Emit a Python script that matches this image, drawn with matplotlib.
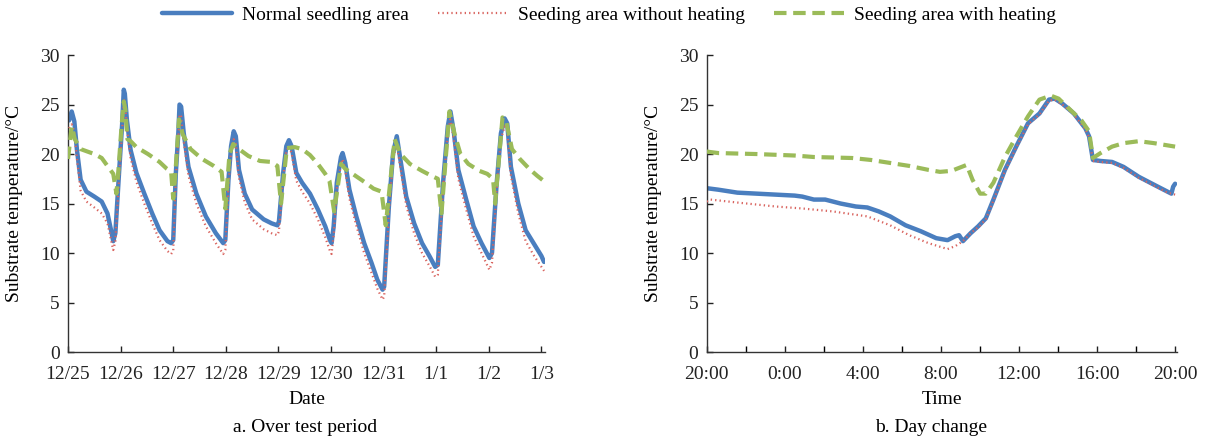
import matplotlib
matplotlib.use("Agg")
import matplotlib.pyplot as plt
from matplotlib.lines import Line2D

plt.rcParams['font.family'] = ['Liberation Serif', 'DejaVu Serif']
plt.rcParams['font.size'] = 14

# ---- panel a: whole test period (days since 12/25 0:00)
t_a = [0.02, 0.07, 0.12, 0.17, 0.24, 0.35, 0.50, 0.64, 0.75, 0.83, 0.86, 0.90, 0.97,
       1.03, 1.06, 1.08, 1.12, 1.19, 1.30, 1.45, 1.60, 1.74, 1.89, 1.96, 2.00,
       2.05, 2.10, 2.12, 2.15, 2.20, 2.29, 2.44, 2.62, 2.81, 2.95, 2.99,
       3.05, 3.10, 3.15, 3.19, 3.25, 3.36, 3.50, 3.72, 3.87, 3.98, 4.01,
       4.09, 4.15, 4.20, 4.25, 4.34, 4.45, 4.60, 4.75, 4.89, 4.98, 5.01,
       5.05, 5.11, 5.19, 5.22, 5.27, 5.35, 5.48, 5.63, 5.77, 5.88, 5.98, 6.01,
       6.10, 6.18, 6.25, 6.32, 6.43, 6.58, 6.73, 6.87, 6.98, 7.03,
       7.13, 7.22, 7.27, 7.33, 7.42, 7.57, 7.71, 7.86, 8.01, 8.06,
       8.15, 8.23, 8.30, 8.35, 8.42, 8.56, 8.70, 8.85, 9.00, 9.05]
normal_a = [23.4, 24.3, 23.3, 20.4, 17.4, 16.2, 15.7, 15.2, 14.0, 12.0, 11.2, 12.0, 18.1,
            23.1, 26.5, 26.1, 23.4, 20.4, 18.1, 16.0, 14.0, 12.3, 11.2, 11.0, 11.3,
            18.1, 22.4, 25.0, 24.8, 22.1, 18.7, 16.0, 13.7, 12.0, 11.0, 11.3,
            17.4, 20.8, 22.3, 21.8, 18.4, 16.0, 14.4, 13.4, 13.0, 12.8, 13.2,
            18.1, 20.8, 21.4, 20.8, 18.1, 17.1, 16.0, 14.4, 12.7, 11.3, 11.0,
            12.7, 17.1, 19.7, 20.1, 19.1, 16.4, 13.7, 11.0, 9.0, 7.3, 6.3, 6.6,
            14.7, 20.1, 21.8, 19.4, 15.7, 13.0, 11.0, 9.7, 8.6, 8.8,
            17.1, 22.8, 24.3, 22.4, 18.4, 15.4, 12.7, 11.0, 9.5, 10.0,
            17.1, 22.1, 23.6, 23.1, 18.7, 15.0, 12.3, 11.0, 9.7, 9.1]
noheat_a = [22.6, 23.0, 22.3, 19.5, 16.3, 15.2, 14.6, 14.0, 13.0, 11.0, 10.3, 11.2, 17.5,
            22.5, 25.5, 25.3, 22.6, 19.6, 17.2, 15.0, 13.0, 11.3, 10.2, 9.9, 10.2,
            17.5, 22.0, 24.0, 23.8, 21.3, 17.8, 15.0, 12.7, 11.0, 9.9, 10.3,
            16.8, 20.3, 21.5, 21.0, 17.6, 15.1, 13.4, 12.4, 12.0, 11.8, 12.2,
            17.6, 20.3, 20.8, 20.1, 17.3, 16.2, 15.0, 13.4, 11.6, 10.2, 9.9,
            11.8, 16.5, 19.0, 19.5, 18.4, 15.5, 12.8, 10.0, 8.0, 6.4, 5.3, 5.6,
            14.0, 19.6, 21.0, 18.6, 14.8, 12.0, 10.0, 8.7, 7.6, 7.8,
            16.5, 22.2, 23.5, 21.6, 17.5, 14.4, 11.7, 10.0, 8.3, 9.0,
            16.5, 21.5, 22.8, 22.3, 17.8, 14.0, 11.2, 9.8, 8.6, 8.2]
t_heat_a = [0.00, 0.07, 0.13, 0.24, 0.50, 0.64, 0.79, 0.86, 0.92, 0.96, 1.02, 1.06, 1.09,
            1.13, 1.19, 1.30, 1.52, 1.74, 1.88, 1.96, 2.00, 2.04, 2.11, 2.18, 2.33,
            2.55, 2.77, 2.92, 2.99, 3.07, 3.14, 3.25, 3.43, 3.65, 3.87, 3.98, 4.05,
            4.16, 4.31, 4.45, 4.60, 4.75, 4.89, 4.97, 5.06, 5.19, 5.27, 5.41, 5.63,
            5.81, 5.96, 6.04, 6.21, 6.32, 6.50, 6.73, 6.91, 7.03, 7.10, 7.25, 7.35,
            7.46, 7.61, 7.82, 7.97, 8.08, 8.12, 8.26, 8.33, 8.44, 8.59, 8.77, 8.92, 9.04]
heat_a = [19.5, 22.8, 21.5, 20.5, 20.0, 19.6, 18.5, 18.0, 16.0, 18.5, 23.0, 25.3, 24.5,
          21.5, 21.3, 20.7, 20.0, 19.2, 18.5, 18.2, 15.5, 18.0, 23.5, 22.0, 20.5,
          19.5, 18.8, 18.2, 14.5, 20.0, 21.0, 20.5, 19.8, 19.3, 19.2, 18.8, 15.0,
          20.6, 20.7, 20.5, 19.9, 19.0, 18.0, 17.3, 14.2, 19.0, 18.5, 18.0, 17.2,
          16.5, 16.2, 12.8, 21.5, 20.0, 19.0, 18.3, 17.8, 17.5, 14.0, 24.3, 22.0,
          20.0, 19.0, 18.3, 18.0, 17.5, 15.0, 23.7, 23.3, 20.5, 19.5, 18.5, 17.8, 17.3]
date_labels = ['12/25', '12/26', '12/27', '12/28', '12/29', '12/30', '12/31', '1/1', '1/2', '1/3']

# ---- panel b: one day (hours since 20:00)
t_norm_b = [0.0, 0.59, 1.57, 2.55, 3.53, 4.51, 4.90, 5.49, 6.07, 6.86, 7.64, 8.23, 8.82,
            9.40, 10.19, 10.97, 11.76, 12.34, 12.74, 12.93, 13.13, 13.52, 13.91, 14.30,
            14.69, 15.28, 15.87, 16.46, 17.05, 17.54, 17.83, 18.22, 18.81, 19.40, 19.59,
            19.79, 20.18, 20.77, 21.36, 22.14, 22.92, 23.61, 23.81, 23.90, 24.0]
normal_b = [16.55, 16.4, 16.1, 16.0, 15.9, 15.8, 15.7, 15.4, 15.4, 15.0, 14.7, 14.6, 14.2,
            13.7, 12.8, 12.2, 11.5, 11.3, 11.7, 11.8, 11.2, 12.0, 12.7, 13.5,
            15.4, 18.4, 20.8, 23.1, 24.1, 25.5, 25.6, 25.1, 24.1, 22.6, 21.8,
            19.4, 19.3, 19.2, 18.7, 17.7, 16.9, 16.2, 16.0, 16.7, 17.0]
t_noheat_b = [0.0, 0.20, 1.57, 3.53, 4.90, 6.47, 8.23, 9.40, 10.38, 11.36, 12.34, 12.74,
              13.13, 13.52, 13.91, 14.30, 14.69, 15.28, 15.87, 16.46, 17.05, 17.54, 17.83,
              18.22, 18.81, 19.40, 19.59, 19.79, 20.18, 20.77, 21.36, 22.14, 22.92, 23.61, 24.0]
noheat_b = [15.2, 15.4, 15.1, 14.7, 14.5, 14.2, 13.7, 12.8, 11.8, 11.0, 10.4, 10.7,
            11.2, 12.0, 12.6, 13.4, 15.3, 18.3, 20.7, 23.0, 24.0, 25.4, 25.5,
            25.0, 24.0, 22.5, 21.7, 19.3, 19.2, 19.1, 18.6, 17.6, 16.8, 16.1, 15.9]
t_heat_b = [0.0, 0.59, 2.55, 4.51, 5.49, 7.45, 8.42, 9.40, 10.38, 11.36, 11.95, 12.54,
            13.32, 13.62, 14.01, 14.30, 14.69, 15.28, 15.87, 16.46, 17.05, 17.63, 18.03,
            18.61, 19.20, 19.59, 19.79, 20.18, 20.77, 21.36, 22.14, 22.92, 24.0]
heat_b = [20.25, 20.1, 20.0, 19.85, 19.7, 19.6, 19.4, 19.1, 18.8, 18.4, 18.2, 18.3,
          18.9, 17.4, 16.0, 16.0, 17.1, 19.7, 21.8, 23.8, 25.5, 25.9, 25.6,
          24.5, 23.4, 22.3, 19.6, 20.1, 20.75, 21.1, 21.3, 21.1, 20.75]
hour_labels = ['20:00', '0:00', '4:00', '8:00', '12:00', '16:00', '20:00']

c_norm = '#4a7ebf'
c_noheat = '#d9645f'
c_heat = '#9bbb59'
sty_norm = dict(color=c_norm, lw=3.2, solid_capstyle='round')
sty_noheat = dict(color=c_noheat, lw=1.6, linestyle=(0, (0.6, 1.4)))
sty_heat = dict(color=c_heat, lw=3.0, linestyle=(0, (3.0, 1.6)))

fig = plt.figure(figsize=(12.06, 4.37), dpi=100)
ax1 = fig.add_axes([0.0564, 0.1945, 0.3956, 0.6795])
ax2 = fig.add_axes([0.586, 0.1945, 0.390, 0.6795])

ax1.plot(t_a, noheat_a, **sty_noheat, zorder=3)
ax1.plot(t_a, normal_a, **sty_norm, zorder=2)
ax1.plot(t_heat_a, heat_a, **sty_heat, zorder=4)
ax1.set_xlim(0, 9.07)
ax1.set_xticks(range(len(date_labels)))
ax1.set_xticklabels(date_labels)
ax1.set_xlabel('Date', labelpad=6)

ax2.plot(t_noheat_b, noheat_b, **sty_noheat, zorder=3)
ax2.plot(t_norm_b, normal_b, **sty_norm, zorder=2)
ax2.plot(t_heat_b, heat_b, **sty_heat, zorder=4)
ax2.set_xlim(0, 24.1)
ax2.set_xticks(range(0, 25, 2), minor=True)
ax2.set_xticks(range(0, 25, 4))
ax2.set_xticklabels(hour_labels)
ax2.set_xlabel('Time', labelpad=6)

for ax in (ax1, ax2):
    ax.set_ylim(0, 30)
    ax.set_yticks(range(0, 31, 5))
    ax.set_ylabel('Substrate temperature/°C', labelpad=12)
    for s in ('top', 'right'):
        ax.spines[s].set_visible(False)
    for s in ('left', 'bottom'):
        ax.spines[s].set_color('#333333')
        ax.spines[s].set_linewidth(1.0)
    ax.tick_params(direction='in', length=4, width=1.0, colors='#222222', labelsize=14)
    ax.tick_params(axis='x', which='minor', direction='in', length=4, width=1.0)
    ax.tick_params(axis='x', pad=10)
    ax.tick_params(axis='y', pad=6)

handles = [Line2D([], [], **sty_norm), Line2D([], [], **sty_noheat), Line2D([], [], **sty_heat)]
fig.legend(handles, ['Normal seedling area', 'Seeding area without heating', 'Seeding area with heating'],
           loc='upper center', bbox_to_anchor=(0.505, 1.025), ncol=3, frameon=False,
           handlelength=3.6, handletextpad=0.5, columnspacing=1.5, fontsize=14)

fig.text(0.253, 0.012, 'a. Over test period', ha='center', va='baseline', fontsize=14)
fig.text(0.772, 0.012, 'b. Day change', ha='center', va='baseline', fontsize=14)

fig.savefig('out.png', dpi=100)
